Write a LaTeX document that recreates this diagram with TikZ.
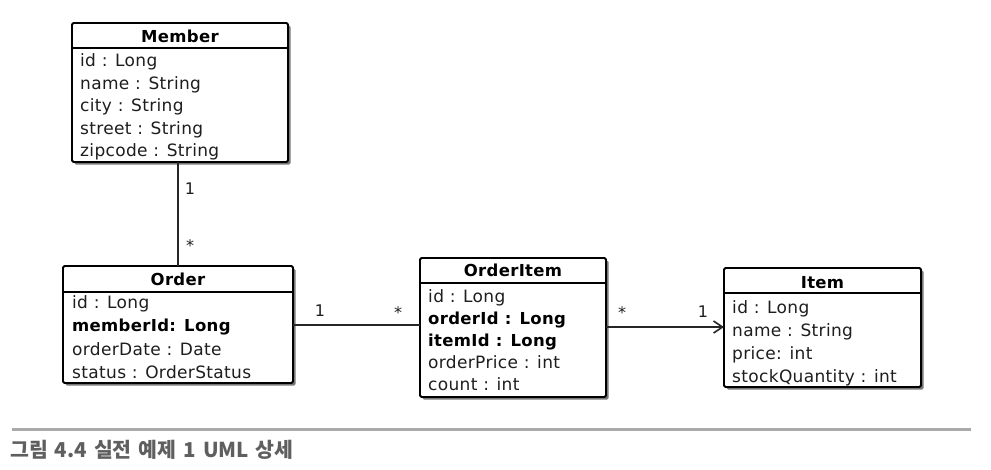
\documentclass[tikz,border=0pt]{standalone}
\usepackage{fontspec}
\setmainfont{DejaVu Sans}[LetterSpace=2]
\newfontfamily\krfont{Noto Sans CJK KR}
\usetikzlibrary{arrows.meta}
\definecolor{shadowc}{RGB}{120,120,120}
\definecolor{txtc}{RGB}{30,30,30}
\definecolor{capc}{RGB}{95,95,95}
\definecolor{rulec}{RGB}{170,170,170}
\tikzset{
  classbox/.style={draw=black, line width=1.8pt, fill=white, rounded corners=1.5pt, inner sep=0pt, outer sep=0pt},
  boxshadow/.style={fill=shadowc, rounded corners=1.5pt},
  sep/.style={line width=1.6pt},
  title/.style={anchor=base, inner sep=0pt, font=\fontsize{16.5}{20}\selectfont\bfseries, text=black},
  attr/.style={anchor=base west, inner sep=0pt, font=\fontsize{17}{20}\selectfont, text=txtc},
  battr/.style={attr, font=\fontsize{16.5}{20}\selectfont\bfseries, text=black},
  mult/.style={anchor=base, inner sep=0pt, font=\fontsize{16}{19}\selectfont, text=txtc},
  conn/.style={line width=1.6pt, draw=black!85},
}
\begin{document}
\begin{tikzpicture}[x=1pt,y=-1pt]
\useasboundingbox (0,0) rectangle (991,469);

% ---- Member ----
\fill[boxshadow] (74.5,25.5) rectangle (290.5,164.5);
\node[classbox, minimum width=216pt, minimum height=139pt] (member) at (180,92.5) {};
\draw[sep] (member.west |- 0,48) -- (member.east |- 0,48);
\node[title] (memberT) at (180,42) {Member};
\node[attr] (m1) at (80,66.5) {id : Long};
\node[attr] (m2) at (80,89) {name : String};
\node[attr] (m3) at (80,111.5) {city : String};
\node[attr] (m4) at (80,134) {street : String};
\node[attr] (m5) at (80,156.5) {zipcode : String};

% ---- Order ----
\fill[boxshadow] (65.5,268.5) rectangle (295.5,385.5);
\node[classbox, minimum width=230pt, minimum height=117pt] (order) at (178,324.5) {};
\draw[sep] (order.west |- 0,292) -- (order.east |- 0,292);
\node[title] (orderT) at (178,285) {Order};
\node[attr] (o1) at (72,308) {id : Long};
\node[battr] (o2) at (72,331.5) {memberId: Long};
\node[attr] (o3) at (72,355) {orderDate : Date};
\node[attr] (o4) at (72,378) {status : OrderStatus};

% ---- OrderItem ----
\fill[boxshadow] (422.5,260.5) rectangle (608.5,399.5);
\node[classbox, minimum width=186pt, minimum height=139pt] (orderitem) at (513,327.5) {};
\draw[sep] (orderitem.west |- 0,283) -- (orderitem.east |- 0,283);
\node[title] (orderitemT) at (513,276) {OrderItem};
\node[attr] (oi1) at (428,302) {id : Long};
\node[battr] (oi2) at (428,324) {orderId : Long};
\node[battr] (oi3) at (428,346) {itemId : Long};
\node[attr] (oi4) at (428,368) {orderPrice : int};
\node[attr] (oi5) at (428,390) {count : int};

% ---- Item ----
\fill[boxshadow] (726.5,270.5) rectangle (923.5,389.5);
\node[classbox, minimum width=197pt, minimum height=119pt] (item) at (822.5,327.5) {};
\draw[sep] (item.west |- 0,293) -- (item.east |- 0,293);
\node[title] (itemT) at (822.5,288) {Item};
\node[attr] (i1) at (732,313) {id : Long};
\node[attr] (i2) at (732,336) {name : String};
\node[attr] (i3) at (732,359) {price: int};
\node[attr] (i4) at (732,382) {stockQuantity : int};

% ---- connectors ----
\draw[conn] (member.south -| order.north) -- (order.north);
\node[mult] (mo1) at (190,194) {1};
\node[mult] (mo2) at (190,251) {*};

\draw[conn] (order.east |- 0,325) -- (orderitem.west |- 0,325);
\node[mult] (oo1) at (320,316) {1};
\node[mult] (oo2) at (398,318) {*};

\draw[conn, -{Straight Barb[length=9pt,width=12pt,line width=1.6pt]}] (orderitem.east |- 0,327) -- (item.west |- 0,327);
\node[mult] (ii1) at (622,318) {*};
\node[mult] (ii2) at (703,317) {1};

% ---- caption ----
\coordinate (rl) at (12,429.5);
\coordinate (rr) at (971,429.5);
\draw[rulec, line width=2.5pt] (rl) -- (rr);
\node[anchor=base west, inner sep=0pt, text=capc, font=\krfont\bfseries\fontsize{20.5}{24}\selectfont] (cap) at (10,457) {\spaceskip=7pt\relax 그림 4.4 실전 예제 1 UML 상세};
\end{tikzpicture}
\end{document}
